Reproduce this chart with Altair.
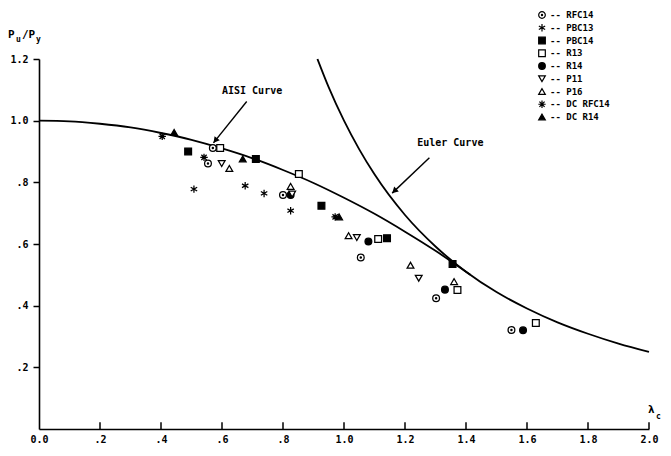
import math
import altair as alt
import pandas as pd

# ---------------- data ----------------
series = ["RFC14", "PBC13", "PBC14", "R13", "R14", "P11", "P16", "DC RFC14", "DC R14"]

rfc14_lam = [0.570, 0.554, 0.800, 1.055, 1.302, 1.549]
rfc14_pu = [0.911, 0.861, 0.759, 0.556, 0.424, 0.321]
pbc13_lam = [0.508, 0.676, 0.738, 0.825]
pbc13_pu = [0.778, 0.789, 0.764, 0.708]
pbc14_lam = [0.489, 0.711, 0.926, 1.141, 1.356]
pbc14_pu = [0.900, 0.876, 0.724, 0.619, 0.535]
r13_lam = [0.594, 0.852, 1.112, 1.372, 1.629]
r13_pu = [0.911, 0.827, 0.616, 0.451, 0.344]
r14_lam = [0.825, 1.080, 1.331, 1.587]
r14_pu = [0.759, 0.608, 0.452, 0.320]
p11_lam = [0.599, 0.830, 1.042, 1.245]
p11_pu = [0.861, 0.762, 0.621, 0.489]
p16_lam = [0.624, 0.825, 1.015, 1.218, 1.361]
p16_pu = [0.845, 0.787, 0.627, 0.531, 0.478]
dcrfc14_lam = [0.404, 0.541, 0.971]
dcrfc14_pu = [0.949, 0.881, 0.688]
dcr14_lam = [0.443, 0.668, 0.984]
dcr14_pu = [0.962, 0.876, 0.688]

# AISI curve
aisi_lam = [0.0, 0.1, 0.2, 0.3, 0.4, 0.5, 0.6, 0.7, 0.8, 0.9, 1.0, 1.1, 1.2, 1.3, 1.414]
aisi_pu = [1.0, 0.998, 0.990, 0.978, 0.960, 0.938, 0.910, 0.878, 0.840, 0.798, 0.750, 0.698, 0.640, 0.578, 0.500]
# Euler curve
euler_lam = [0.913, 0.95, 1.0, 1.05, 1.1, 1.2, 1.3, 1.4, 1.5, 1.6, 1.7, 1.8, 1.9, 2.0]
euler_pu = [1.200, 1.108, 1.000, 0.907, 0.826, 0.694, 0.592, 0.510, 0.444, 0.391, 0.346, 0.309, 0.277, 0.250]

x_ticks = [0.0, 0.2, 0.4, 0.6, 0.8, 1.0, 1.2, 1.4, 1.6, 1.8, 2.0]
y_ticks = [0.2, 0.4, 0.6, 0.8, 1.0, 1.2]

# annotation arrows: (start, tip)
aisi_arrow = [(0.681, 1.062), (0.572, 0.928)]
euler_arrow = [(1.28, 0.880), (1.158, 0.765)]
note_texts = ["AISI Curve", "Euler Curve"]
note_lam = [0.60, 1.24]
note_pu = [1.097, 0.929]

# ---------------- layout ----------------
W, H = 610, 370
PAD_L, PAD_T = 31, 51
PX_X = W / 2.0
PX_Y = H / 1.2
FONT = "DejaVu Sans Mono"

# ---------------- tables ----------------
groups = [
    ("RFC14", rfc14_lam, rfc14_pu), ("PBC13", pbc13_lam, pbc13_pu),
    ("PBC14", pbc14_lam, pbc14_pu), ("R13", r13_lam, r13_pu),
    ("R14", r14_lam, r14_pu), ("P11", p11_lam, p11_pu),
    ("P16", p16_lam, p16_pu), ("DC RFC14", dcrfc14_lam, dcrfc14_pu),
    ("DC R14", dcr14_lam, dcr14_pu),
]
rows = []
for name, xs_, ys_ in groups:
    for a, b in zip(xs_, ys_):
        rows.append({"lam": a, "pu": b, "series": name})
pts = pd.DataFrame(rows)

curves = pd.concat([
    pd.DataFrame({"lam": aisi_lam, "pu": aisi_pu, "curve": "AISI"}),
    pd.DataFrame({"lam": euler_lam, "pu": euler_pu, "curve": "Euler"}),
])

circ_dot = "M-1,0A1,1,0,1,1,1,0A1,1,0,1,1,-1,0ZM-0.18,0A0.18,0.18,0,1,1,0.18,0A0.18,0.18,0,1,1,-0.18,0Z"
aster6 = "M0,-1.1L0,1.1M-0.95,-0.55L0.95,0.55M-0.95,0.55L0.95,-0.55"
aster8 = "M0,-1.1L0,1.1M-1.1,0L1.1,0M-0.78,-0.78L0.78,0.78M-0.78,0.78L0.78,-0.78"
shapes = [circ_dot, aster6, "square", "square", "circle", "triangle-down", "triangle-up", aster8, "triangle-up"]
fills = ["white", "black", "black", "white", "black", "white", "white", "black", "black"]

xs = alt.Scale(domain=[0, 2.0], nice=False, zero=False)
ys = alt.Scale(domain=[0, 1.2], nice=False, zero=False)

X = alt.X("lam:Q", scale=xs, axis=alt.Axis(
    values=x_ticks, ticks=False, grid=False, title=None, domainColor="black", domainWidth=1.6,
    labelExpr="datum.value == 0 ? '0.0' : (datum.value < 1 ? replace(format(datum.value, '.1f'), '0.', '.') : format(datum.value, '.1f'))",
    labelPadding=5, labelFlush=False))
Y = alt.Y("pu:Q", scale=ys, axis=alt.Axis(
    values=y_ticks, grid=False, title=None, domainColor="black", domainWidth=1.6,
    tickColor="black", tickWidth=1.5, tickSize=6, labelPadding=5,
    labelExpr="datum.value < 1 ? replace(format(datum.value, '.1f'), '0.', '.') : format(datum.value, '.1f')"))

shape_enc = alt.Shape("series:N", scale=alt.Scale(domain=series, range=shapes), legend=None)
fill_enc = alt.Fill("series:N", scale=alt.Scale(domain=series, range=fills), legend=None)

points = alt.Chart(pts).mark_point(filled=True, stroke="black", strokeWidth=1.25, size=46, opacity=1).encode(
    x=X, y=Y, shape=shape_enc, fill=fill_enc)

lines = alt.Chart(curves).mark_line(color="black", strokeWidth=1.8, interpolate="monotone").encode(
    x="lam:Q", y="pu:Q", detail="curve:N")

tick_df = pd.DataFrame({"lam": x_ticks[1:], "y0": [0] * 10, "y1": [0.022] * 10})
xticks = alt.Chart(tick_df).mark_rule(color="black", strokeWidth=1.5).encode(
    x="lam:Q", y="y0:Q", y2="y1:Q")

arrows_rows = []
heads = []
for i, (s, t) in enumerate([aisi_arrow, euler_arrow]):
    arrows_rows.append({"lam": s[0], "pu": s[1], "k": i})
    arrows_rows.append({"lam": t[0], "pu": t[1], "k": i})
    dx = (t[0] - s[0]) * PX_X
    dy = -(t[1] - s[1]) * PX_Y
    ang = (math.degrees(math.atan2(dx, -dy)) + 360) % 360
    L = math.hypot(dx, dy)
    heads.append({"lam": t[0] - dx / L * 4 / PX_X, "pu": t[1] + dy / L * 4 / PX_Y, "ang": ang})
arr = alt.Chart(pd.DataFrame(arrows_rows)).mark_line(color="black", strokeWidth=1.4).encode(
    x="lam:Q", y="pu:Q", detail="k:N")
hd = alt.Chart(pd.DataFrame(heads)).mark_point(shape="triangle", filled=True, color="black", size=45, opacity=1).encode(
    x="lam:Q", y="pu:Q", angle=alt.Angle("ang:Q", scale=None))

notes = pd.DataFrame({"lam": note_lam, "pu": note_pu, "t": note_texts})
note_txt = alt.Chart(notes).mark_text(align="left", baseline="middle", font=FONT, fontWeight="bold",
                                      fontSize=10, color="black").encode(x="lam:Q", y="pu:Q", text="t:N")

# ---------------- hand-made legend (top right) ----------------
leg_top_page, leg_step = 15.0, 12.75
plot_bottom_page = 8 + PAD_T + H
plot_left_page = 8 + PAD_L
leg = pd.DataFrame({
    "series": series,
    "pu": [(plot_bottom_page - (leg_top_page + i * leg_step)) / PX_Y for i in range(len(series))],
    "lab": ["--  " + s for s in series],
})
leg_sym = alt.Chart(leg).mark_point(filled=True, stroke="black", strokeWidth=1.2, size=44, opacity=1).encode(
    x=alt.value(542 - plot_left_page), y="pu:Q", shape=shape_enc, fill=fill_enc)
leg_txt = alt.Chart(leg).mark_text(align="left", baseline="middle", font=FONT, fontWeight="bold",
                                   fontSize=9, color="black").encode(x=alt.value(550 - plot_left_page), y="pu:Q", text="lab:N")


def lab(t, x, y, size):
    return alt.Chart(pd.DataFrame({"t": [t]})).mark_text(
        align="left", baseline="middle", font=FONT, fontWeight="bold", fontSize=size, color="black"
    ).encode(text="t:N", x=alt.value(x - plot_left_page), y=alt.value(y - (8 + PAD_T)))


ytitle = lab("P", 8, 35, 11) + lab("u", 16, 40, 8) + lab("/P", 22, 35, 11) + lab("y", 36, 40, 8)
xtitle = lab("\u03bb", 648, 410, 11) + lab("c", 656, 417, 8)

chart = alt.layer(lines, xticks, arr, hd, note_txt, points, leg_sym, leg_txt, ytitle, xtitle).properties(
    width=W, height=H,
    autosize=alt.AutoSizeParams(type="none"),
    padding={"left": PAD_L, "top": PAD_T, "right": 671 - 16 - PAD_L - W, "bottom": 456 - 16 - PAD_T - H},
    background="white",
).configure_view(stroke=None).configure_axis(
    labelFont=FONT, labelFontWeight="bold", labelFontSize=10, labelColor="black"
)

chart.save("out.html", embed_options={"renderer": "svg", "actions": False})
